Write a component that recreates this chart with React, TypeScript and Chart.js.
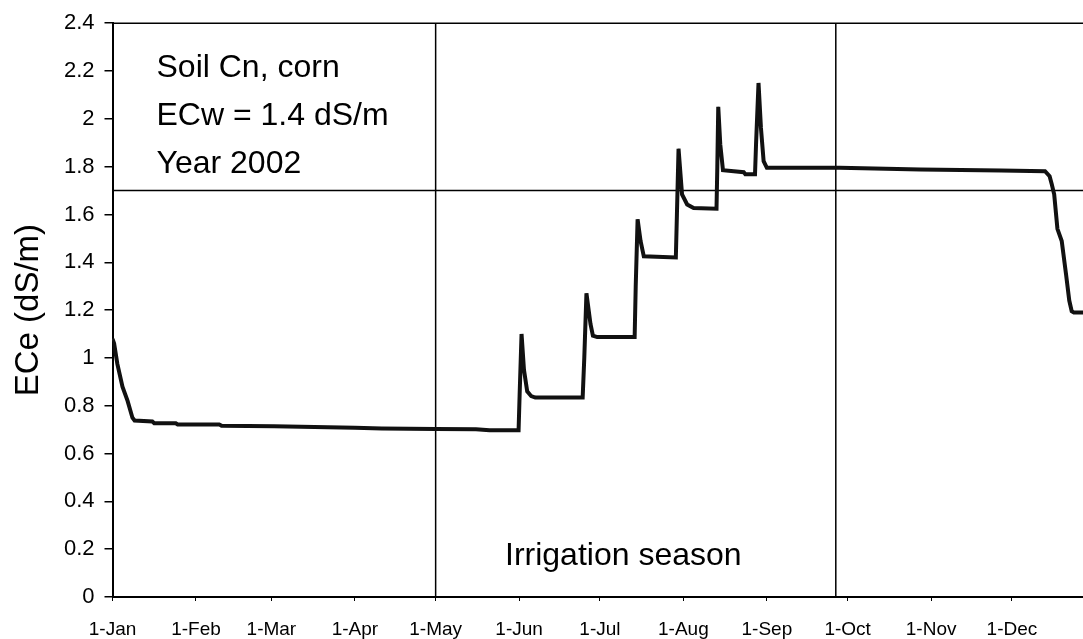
import { useEffect, useRef } from "react";
import { Chart, registerables } from "chart.js";

Chart.register(...registerables);

// Day of year (0 = 1 January) for the month tick marks
const monthStarts = [0, 31, 59, 90, 120, 151, 181, 212, 243, 273, 304, 334];
const monthLabels = [
  "1-Jan", "1-Feb", "1-Mar", "1-Apr", "1-May", "1-Jun",
  "1-Jul", "1-Aug", "1-Sep", "1-Oct", "1-Nov", "1-Dec",
];

const yTicks = [0, 0.2, 0.4, 0.6, 0.8, 1, 1.2, 1.4, 1.6, 1.8, 2, 2.2, 2.4];
const yTickLabels = ["0", "0.2", "0.4", "0.6", "0.8", "1", "1.2", "1.4", "1.6", "1.8", "2", "2.2", "2.4"];

// Simulated soil salinity through 2002
const dayOfYear = [
  0, 0.6, 1.8, 3.7, 5.6, 7.4, 8.2, 14.8, 15.5, 23.5, 24.2, 39.6, 40.5, 60, 75, 90, 100, 120, 135, 140, 150.8,
  151.2, 151.9, 152.8, 154, 155.5, 157, 174.6,
  175.2, 176, 177.5, 178.4, 180, 193.9,
  194.3, 195, 196.1, 197.3, 209.2,
  209.6, 210.2, 211.5, 213.4, 215.8, 224.3,
  224.6, 224.95, 225.7, 226.7, 234.4, 235, 238.6,
  239.0, 239.9, 240.8, 241.8, 243, 270, 300, 330, 346.3,
  348, 348.8, 349.7, 350.9, 352.5, 354.1, 355.3, 356.2, 357, 360.4,
];
const eceValues = [
  1.08, 1.06, 0.975, 0.88, 0.82, 0.75, 0.738, 0.734, 0.727, 0.727, 0.722, 0.722, 0.716, 0.714, 0.711, 0.708, 0.705, 0.703, 0.702, 0.697, 0.697,
  0.85, 1.1, 0.95, 0.86, 0.84, 0.834, 0.834,
  1.0, 1.27, 1.142, 1.093, 1.087, 1.087,
  1.3, 1.58, 1.489, 1.425, 1.42,
  1.6, 1.875, 1.684, 1.642, 1.627, 1.624,
  1.8, 2.05, 1.893, 1.785, 1.777, 1.768, 1.768,
  1.9, 2.15, 1.962, 1.823, 1.795, 1.795, 1.788, 1.784, 1.781,
  1.76, 1.726, 1.684, 1.54, 1.489, 1.35, 1.24, 1.195, 1.19, 1.19,
];

const xMaxDay = 360.4;
const irrigationStartDay = 120; // 1-May
const irrigationEndDay = 268.6;
const thresholdEce = 1.7;
const infoLines = ["Soil Cn, corn", "ECw = 1.4 dS/m", "Year 2002"];
const seasonLabel = "Irrigation season";
const yTitle = "ECe (dS/m)";

const FONT = '"Liberation Sans", Arial, Helvetica, sans-serif';

const guidesPlugin = {
  id: "guides",
  beforeDatasetsDraw(chart: any) {
    const { ctx, chartArea, scales } = chart;
    const x = scales.x;
    const y = scales.y;
    ctx.save();
    ctx.strokeStyle = "#000";
    ctx.lineWidth = 1.5;
    ctx.beginPath();
    // frame top
    ctx.moveTo(chartArea.left, chartArea.top);
    ctx.lineTo(chartArea.right, chartArea.top);
    // threshold
    const yt = y.getPixelForValue(thresholdEce);
    ctx.moveTo(chartArea.left, yt);
    ctx.lineTo(chartArea.right, yt);
    // irrigation season bounds
    for (const d of [irrigationStartDay, irrigationEndDay]) {
      const px = x.getPixelForValue(d);
      ctx.moveTo(px, chartArea.top);
      ctx.lineTo(px, chartArea.bottom);
    }
    ctx.stroke();
    ctx.restore();
  },
  afterDraw(chart: any) {
    const { ctx, chartArea } = chart;
    ctx.save();
    ctx.fillStyle = "#000";
    ctx.font = `32px ${FONT}`;
    ctx.textAlign = "left";
    ctx.textBaseline = "alphabetic";
    infoLines.forEach((t, i) => {
      ctx.fillText(t, chartArea.left + 44, chartArea.top + 54 + i * 48);
    });
    ctx.fillText(seasonLabel, 505, chartArea.bottom - 32);
    ctx.restore();
  },
};

export default function App() {
  const canvasRef = useRef<HTMLCanvasElement | null>(null);

  useEffect(() => {
    const canvas = canvasRef.current;
    if (!canvas) return;
    const points = dayOfYear.map((d, i) => ({ x: d, y: eceValues[i] }));
    const chart = new Chart(canvas, {
      type: "line",
      data: {
        datasets: [
          {
            data: points,
            borderColor: "#111",
            borderWidth: 4,
            pointRadius: 0,
            tension: 0,
            fill: false,
          },
          {
            data: points,
            borderColor: "#666",
            borderWidth: 1.3,
            pointRadius: 0,
            tension: 0,
            fill: false,
          },
        ],
      },
      options: {
        animation: false,
        responsive: true,
        maintainAspectRatio: false,
        layout: { padding: { top: 21.7, left: 0, right: 0, bottom: 0 } },
        plugins: {
          legend: { display: false },
          tooltip: { enabled: false },
        },
        scales: {
          x: {
            type: "linear",
            min: 0,
            max: xMaxDay,
            afterBuildTicks: (scale: any) => {
              scale.ticks = monthStarts.map((v) => ({ value: v }));
            },
            afterFit: (scale: any) => {
              scale.height = 42;
            },
            ticks: {
              autoSkip: false,
              maxRotation: 0,
              minRotation: 0,
              padding: 17,
              color: "#000",
              font: { family: FONT, size: 19 },
              callback: (_v: any, i: number) => monthLabels[i],
            },
            grid: {
              display: true,
              drawOnChartArea: false,
              drawTicks: true,
              tickLength: 4,
              color: "#000",
              lineWidth: 1,
            },
            border: { display: true, color: "#000", width: 2 },
          },
          y: {
            type: "linear",
            min: 0,
            max: 2.4,
            afterBuildTicks: (scale: any) => {
              scale.ticks = yTicks.map((v) => ({ value: v }));
            },
            afterFit: (scale: any) => {
              scale.width = 112.5;
            },
            ticks: {
              padding: 10,
              color: "#000",
              font: { family: FONT, size: 22 },
              callback: (_v: any, i: number) => yTickLabels[i],
            },
            grid: {
              display: true,
              drawOnChartArea: false,
              drawTicks: true,
              tickLength: 8,
              color: "#000",
              lineWidth: 1.5,
            },
            border: { display: true, color: "#000", width: 2 },
            title: {
              display: true,
              text: yTitle,
              color: "#000",
              font: { family: FONT, size: 33 },
              padding: { top: 9, bottom: 0 },
            },
          },
        },
      },
      plugins: [guidesPlugin],
    });
    return () => chart.destroy();
  }, []);

  return (
    <div
      style={{
        position: "fixed",
        left: 0,
        top: 0,
        width: 1083,
        height: 639,
        background: "#fff",
      }}
    >
      <canvas ref={canvasRef} />
    </div>
  );
}
